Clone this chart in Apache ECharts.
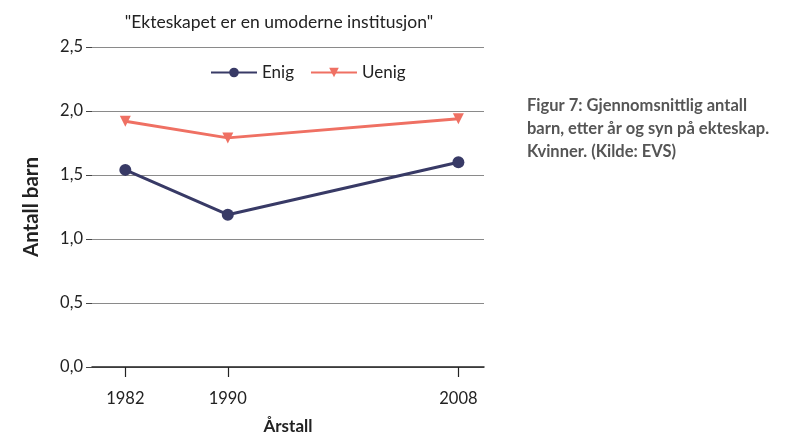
<!DOCTYPE html>
<html><head><meta charset="utf-8">
<script src="https://cdn.jsdelivr.net/npm/echarts@6/dist/echarts.min.js"></script>
<style>html,body{margin:0;padding:0;background:#fff}#c{width:800px;height:448px}</style>
</head><body><div id="c"></div>
<script>
const years = [1982, 1990, 2008];
const enig = [1.54, 1.19, 1.60];
const uenig = [1.92, 1.79, 1.94];
const yTicks = [0, 0.5, 1.0, 1.5, 2.0, 2.5];
const FONT = 'Lato, "Open Sans", sans-serif';

const chart = echarts.init(document.getElementById('c'), null, {renderer: 'canvas'});
chart.setOption({
  animation: false,
  backgroundColor: '#fff',
  title: {
    text: '"Ekteskapet er en umoderne institusjon"',
    left: 274, top: 8, textAlign: 'center',
    textStyle: {fontFamily: FONT, fontSize: 17.5, fontWeight: 'normal', color: '#222'}
  },
  legend: {
    top: 59, left: 205,
    itemWidth: 46, itemHeight: 12, itemGap: 16,
    textStyle: {fontFamily: FONT, fontSize: 17, color: '#222'},
    data: ['Enig', 'Uenig']
  },
  grid: {left: 92, right: 316, top: 47, bottom: 81, containLabel: false},
  xAxis: {
    type: 'value', min: 1979.4, max: 2010,
    name: 'Årstall', nameLocation: 'middle', nameGap: 51,
    nameTextStyle: {fontFamily: FONT, fontSize: 17, fontWeight: 'bold', color: '#222'},
    axisLine: {show: true, lineStyle: {color: '#222', width: 1.5}},
    axisTick: {show: true, customValues: years, length: 10, lineStyle: {color: '#222', width: 1.2}},
    axisLabel: {customValues: years, margin: 23, fontFamily: FONT, fontSize: 16.5, color: '#222',
      formatter: v => String(v)},
    splitLine: {show: false}
  },
  yAxis: {
    type: 'value', min: 0, max: 2.5, interval: 0.5,
    name: 'Antall barn', nameLocation: 'middle', nameGap: 50, nameRotate: 90,
    nameTextStyle: {fontFamily: FONT, fontSize: 20.5, fontWeight: 'bold', color: '#222'},
    axisLine: {show: false},
    axisTick: {show: true, length: 6, lineStyle: {color: '#444', width: 1}},
    axisLabel: {margin: 9, fontFamily: FONT, fontSize: 16.5, color: '#222',
      formatter: v => v.toFixed(1).replace('.', ',')},
    splitLine: {show: true, lineStyle: {color: '#8a8a8a', width: 1.2}}
  },
  series: [
    {
      name: 'Enig', type: 'line',
      data: years.map((y, i) => [y, enig[i]]),
      symbol: 'circle', symbolSize: 12,
      lineStyle: {color: '#383a66', width: 3},
      itemStyle: {color: '#383a66'},
      z: 3
    },
    {
      name: 'Uenig', type: 'line',
      data: years.map((y, i) => [y, uenig[i]]),
      symbol: 'triangle', symbolSize: 11, symbolRotate: 180,
      lineStyle: {color: '#ef7063', width: 3},
      itemStyle: {color: '#ef7063'},
      z: 2
    }
  ],
  graphic: [{
    type: 'text', left: 527, top: 94,
    style: {
      text: 'Figur 7: Gjennomsnittlig antall\nbarn, etter år og syn på ekteskap.\nKvinner. (Kilde: EVS)',
      font: 'bold 16.5px ' + FONT, fill: '#555', lineHeight: 23
    }
  }]
});
</script></body></html>
